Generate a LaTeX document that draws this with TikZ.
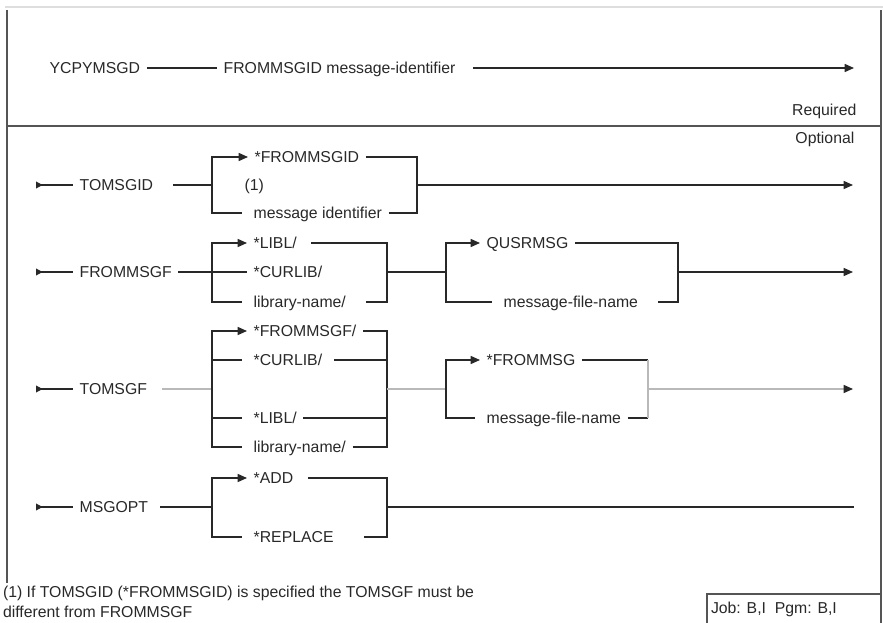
\documentclass[tikz,border=0pt]{standalone}
\usepackage{fontspec}
\setmainfont{Liberation Sans}
\usetikzlibrary{arrows.meta}
\definecolor{ink}{RGB}{40,40,40}
\definecolor{frameline}{RGB}{85,85,85}
\definecolor{pale}{RGB}{185,185,185}
\definecolor{topband}{RGB}{222,222,222}

\begin{document}
\begin{tikzpicture}[x=0.75pt,y=-0.75pt,
  lbl/.style={anchor=west, inner sep=0pt, outer xsep=5pt, text height=8.5pt, text depth=0pt, text=ink, font=\fontsize{11.85}{14}\selectfont},
  rail/.style={line width=1.1pt, draw=ink},
  railarrow/.style={rail, -{Triangle[length=7pt,width=6pt,color=ink]}},
  railentry/.style={rail, {Triangle[reversed,length=5pt,width=5pt]}-},
  railstub/.style={rail, shorten >=4pt},
  faint/.style={line width=1.1pt, draw=pale}]
\useasboundingbox (0,0) rectangle (883,623);
\draw[topband, line width=2.2pt] (5,7) -- (883,7);
\draw[frameline, line width=1.2pt] (7,10) -- (7,583);
\draw[frameline, line width=1.2pt] (881,10) -- (881,623);
\draw[frameline, line width=1.2pt] (7,126) -- (881,126);
\draw[frameline, line width=1pt] (707,623) -- (707,594) -- (881,594);

\node[lbl] (cmd) at (43,68) {YCPYMSGD};
\node[lbl] (fromid) at (217,68) {FROMMSGID message-identifier};
\coordinate (cmdEnd) at (854,68);
\draw[rail] (cmd) -- (fromid);
\draw[railarrow, shorten <=8pt] (fromid) -- (cmdEnd);
\node[lbl, anchor=east] (req) at (863,110) {Required};
\node[lbl, anchor=east] (opt) at (861,138) {Optional};

\coordinate (tgS) at (36,185);
\node[lbl] (tomsgid) at (73,185) {TOMSGID};
\coordinate (tgL) at (212,185);
\coordinate (tgR) at (417,185);
\coordinate (tgEnd) at (853,185);
\node[lbl] (tg1) at (248,157) {*FROMMSGID};
\node[lbl] (tg2) at (238,185) {(1)};
\node[lbl] (tg3) at (247,213) {message identifier};
\draw[railentry] (tgS) -- (tomsgid);
\draw[rail, shorten <=10pt] (tomsgid) -- (tgL);
\draw[railarrow] (tgL) |- (tg1);
\draw[railstub] (tgL) |- (tg3);
\draw[rail] (tg1) -| (tgR);
\draw[rail] (tg3) -| (tgR);
\draw[railarrow] (tgR) -- (tgEnd);

\coordinate (fmS) at (36,272);
\node[lbl] (fm) at (73,272) {FROMMSGF};
\coordinate (fmL) at (212,272);
\coordinate (fmR) at (387,272);
\coordinate (fmM) at (446,272);
\coordinate (fmN) at (678,272);
\coordinate (fmEnd) at (853,272);
\node[lbl] (fm1) at (247,243) {*LIBL/};
\node[lbl] (fm2) at (247,272) {*CURLIB/};
\node[lbl] (fm3) at (247,302) {library-name/};
\node[lbl] (fm4) at (480,243) {QUSRMSG};
\node[lbl] (fm5) at (497,302) {message-file-name};
\draw[railentry] (fmS) -- (fm);
\draw[rail] (fm) -- (fm2);
\draw[railarrow] (fmL) |- (fm1);
\draw[railstub] (fmL) |- (fm3);
\draw[rail, shorten <=6pt] (fm1) -| (fmR);
\draw[rail, shorten <=10pt] (fm3) -| (fmR);
\draw[rail] (fmR) -- (fmM);
\draw[railarrow] (fmM) |- (fm4);
\draw[railstub] (fmM) |- (fm5);
\draw[rail] (fm4) -| (fmN);
\draw[rail, shorten <=10pt] (fm5) -| (fmN);
\draw[railarrow] (fmN) -- (fmEnd);

\coordinate (tfS) at (36,389);
\node[lbl] (tf) at (73,389) {TOMSGF};
\coordinate (tfL) at (212,389);
\coordinate (tfR) at (387,389);
\coordinate (tfM) at (446,389);
\coordinate (tfN) at (648,389);
\coordinate (tfEnd) at (853,389);
\node[lbl] (tf1) at (247,331) {*FROMMSGF/};
\node[lbl] (tf2) at (247,360) {*CURLIB/};
\node[lbl] (tf3) at (247,418) {*LIBL/};
\node[lbl] (tf4) at (247,447) {library-name/};
\node[lbl] (tf5) at (480,360) {*FROMMSG};
\node[lbl] (tf6) at (480,418) {message-file-name};
\draw[railentry] (tfS) -- (tf);
\draw[faint, shorten <=6pt] (tf) -- (tfL);
\draw[railarrow] (tfL) |- (tf1);
\draw[railstub] (tfL) |- (tf4);
\draw[railstub] (tf2.west -| tfL) -- (tf2);
\draw[railstub] (tf3.west -| tfL) -- (tf3);
\draw[rail] (tf1) -| (tfR);
\draw[rail, shorten <=4pt] (tf2) -- (tf2 -| tfR);
\draw[rail] (tf3) -- (tf3 -| tfR);
\draw[rail] (tf4) -| (tfR);
\draw[faint] (tfR) -- (tfM);
\draw[railarrow] (tfM) |- (tf5);
\draw[railstub] (tfM) |- (tf6);
\draw[rail] (tf5) -- (tf5 -| tfN);
\draw[rail] (tf6) -- (tf6 -| tfN);
\draw[faint] (tf5 -| tfN) -- (tf6 -| tfN);
\draw[faint, -{Triangle[length=7pt,width=6pt,color=ink]}] (tfN) -- (tfEnd);

\coordinate (moS) at (36,507);
\node[lbl] (mo) at (73,507) {MSGOPT};
\coordinate (moL) at (212,507);
\coordinate (moR) at (387,507);
\coordinate (moEnd) at (854,507);
\node[lbl] (mo1) at (247,478) {*ADD};
\node[lbl] (mo2) at (247,537) {*REPLACE};
\draw[railentry] (moS) -- (mo);
\draw[rail, shorten <=4pt] (mo) -- (moL);
\draw[railarrow] (moL) |- (mo1);
\draw[railstub] (moL) |- (mo2);
\draw[rail, shorten <=6pt] (mo1) -| (moR);
\draw[rail, shorten <=18pt] (mo2) -| (moR);
\draw[rail] (moR) -- (moEnd);

\node[lbl, outer xsep=0pt] (note1) at (3,592) {(1) If TOMSGID (*FROMMSGID) is specified the TOMSGF must be};
\node[lbl, outer xsep=0pt] (note2) at (3,612) {different from FROMMSGF};
\node[lbl, outer xsep=0pt] (job) at (711,608) {Job: B,I\ \ Pgm: B,I};
\end{tikzpicture}
\end{document}
